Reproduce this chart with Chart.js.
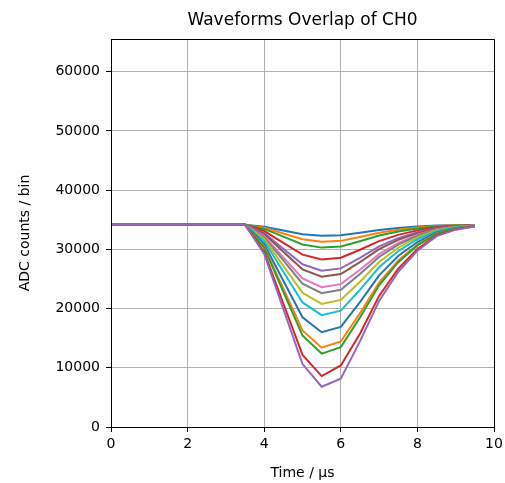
<!DOCTYPE html>
<html lang="en">
<head>
  <meta charset="UTF-8">
  <title>Waveforms Overlap of CH0</title>
  <script src="https://cdn.jsdelivr.net/npm/chart.js"></script>
  <style>
    body { margin: 0; background: #fff; }
    #wrap { width: 505px; height: 483px; }
  </style>
</head>
<body>
  <div id="wrap"><canvas id="myChart"></canvas></div>

  <script>
    // Sample times in microseconds
    const timeUs = [0, 0.5, 1, 1.5, 2, 2.5, 3, 3.5, 4, 4.5, 5, 5.5, 6, 6.5, 7, 7.5, 8, 8.5, 9, 9.5];

    // Axis ticks
    const xTicks = [0, 2, 4, 6, 8, 10];
    const yTicks = [0, 10000, 20000, 30000, 40000, 50000, 60000];

    // ADC counts for each waveform, smallest pulse first
    const wave01 = [34150, 34150, 34150, 34150, 34150, 34150, 34150, 34150, 33820, 33190, 32560, 32300, 32390, 32820, 33280, 33610, 33850, 34020, 34090, 34130];
    const wave02 = [34150, 34150, 34150, 34150, 34150, 34150, 34150, 34150, 33640, 32670, 31700, 31300, 31440, 32100, 32810, 33320, 33690, 33950, 34060, 34120];
    const wave03 = [34150, 34150, 34150, 34150, 34150, 34150, 34150, 34150, 33460, 32150, 30840, 30300, 30490, 31380, 32340, 33030, 33530, 33880, 34030, 34110];
    const wave04 = [34150, 34150, 34150, 34150, 34150, 34150, 34150, 34150, 33100, 31110, 29120, 28300, 28590, 29940, 31400, 32450, 33210, 33740, 33970, 34090];
    const wave05 = [34150, 34150, 34150, 34150, 34150, 34150, 34150, 34150, 32760, 30120, 27490, 26400, 26790, 28570, 30510, 31900, 32910, 33610, 33920, 34070];
    const wave06 = [34150, 34150, 34150, 34150, 34150, 34150, 34150, 34150, 32580, 29600, 26630, 25400, 25840, 27850, 30040, 31610, 32750, 33540, 33890, 34060];
    const wave07 = [34150, 34150, 34150, 34150, 34150, 34150, 34150, 34150, 32250, 28660, 25080, 23600, 24130, 26550, 29190, 31090, 32460, 33410, 33830, 34050];
    const wave08 = [34150, 34150, 34150, 34150, 34150, 34150, 34150, 34150, 32070, 28140, 24220, 22600, 23180, 25830, 28720, 30800, 32300, 33340, 33800, 34030];
    const wave09 = [34150, 34150, 34150, 34150, 34150, 34150, 34150, 34150, 31750, 27210, 22670, 20800, 21470, 24540, 27880, 30280, 32010, 33220, 33750, 34020];
    const wave10 = [34150, 34150, 34150, 34150, 34150, 34150, 34150, 34150, 31410, 26220, 21040, 18900, 19660, 23170, 26980, 29730, 31710, 33080, 33690, 34000];
    const wave11 = [34150, 34150, 34150, 34150, 34150, 34150, 34150, 34150, 30880, 24710, 18540, 16000, 16910, 21080, 25620, 28890, 31250, 32880, 33610, 33970];
    const wave12 = [34150, 34150, 34150, 34150, 34150, 34150, 34150, 34150, 30420, 23360, 16310, 13400, 14440, 19210, 24400, 28130, 30830, 32700, 33530, 33940];
    const wave13 = [34150, 34150, 34150, 34150, 34150, 34150, 34150, 34150, 30240, 22840, 15450, 12400, 13490, 18490, 23930, 27840, 30670, 32630, 33500, 33930];
    const wave14 = [34150, 34150, 34150, 34150, 34150, 34150, 34150, 34150, 29550, 20860, 12180, 8600, 10400, 15750, 22140, 26740, 30060, 32360, 33380, 33900];
    const wave15 = [34150, 34150, 34150, 34150, 34150, 34150, 34150, 34150, 29230, 19930, 10630, 6800, 8170, 14460, 21300, 26220, 29770, 32240, 33330, 33880];

    const waves = [wave01, wave02, wave03, wave04, wave05, wave06, wave07, wave08,
                   wave09, wave10, wave11, wave12, wave13, wave14, wave15];

    // matplotlib default colour cycle
    const tab10 = ['#1f77b4', '#ff7f0e', '#2ca02c', '#d62728', '#9467bd',
                   '#8c564b', '#e377c2', '#7f7f7f', '#bcbd22', '#17becf'];

    const titleText = 'Waveforms Overlap of CH0';

    Chart.defaults.font.family = "'DejaVu Sans', sans-serif";
    Chart.defaults.color = '#000';

    // draws the top and right spines plus the title centred over the plot area
    const frame = {
      id: 'frame',
      afterDraw(chart) {
        const a = chart.chartArea;
        const ctx = chart.ctx;
        ctx.save();
        ctx.strokeStyle = '#000';
        ctx.lineWidth = 1;
        ctx.strokeRect(Math.round(a.left) + 0.5, Math.round(a.top) + 0.5,
                       Math.round(a.right - a.left), Math.round(a.bottom - a.top));
        ctx.fillStyle = '#000';
        ctx.font = "17px 'DejaVu Sans', sans-serif";
        ctx.textAlign = 'center';
        ctx.textBaseline = 'middle';
        ctx.fillText(titleText, (a.left + a.right) / 2, a.top - 18);
        ctx.restore();
      }
    };

    const datasets = waves.map((w, i) => ({
      data: w.map((v, k) => ({ x: timeUs[k], y: v })),
      borderColor: tab10[i % 10],
      borderWidth: 2,
      pointRadius: 0,
      fill: false,
      tension: 0,
      order: waves.length - i   // later waveforms on top, as in matplotlib
    }));

    const ctx = document.getElementById('myChart').getContext('2d');
    new Chart(ctx, {
      type: 'line',
      data: { datasets },
      plugins: [frame],
      options: {
        responsive: true,
        maintainAspectRatio: false,
        animation: false,
        devicePixelRatio: 1,
        layout: { padding: { top: 39, right: 11, bottom: 0, left: 0 } },
        plugins: {
          legend: { display: false },
          tooltip: { enabled: false },
          title: { display: false }
        },
        scales: {
          x: {
            type: 'linear',
            min: 0,
            max: 10,
            afterBuildTicks: s => { s.ticks = xTicks.map(v => ({ value: v })); },
            ticks: { font: { size: 14 }, padding: 4, maxRotation: 0, callback: v => String(v) },
            grid: { color: '#b0b0b0', tickColor: '#000', tickLength: 5 },
            border: { color: '#000', width: 1 },
            title: { display: true, text: 'Time / μs', font: { size: 14 }, padding: { top: 0, bottom: 1 } },
            afterFit: s => { s.height = 56; s.paddingLeft = 0; s.paddingRight = 0; }
          },
          y: {
            min: 0,
            max: 65536,
            afterBuildTicks: s => { s.ticks = yTicks.map(v => ({ value: v })); },
            ticks: { font: { size: 14 }, padding: 6, callback: v => String(v) },
            grid: { color: '#b0b0b0', tickColor: '#000', tickLength: 5 },
            border: { color: '#000', width: 1 },
            title: { display: true, text: 'ADC counts / bin', font: { size: 14 }, padding: { top: 17, bottom: 0 } },
            afterFit: s => { s.width = 111; s.paddingTop = 0; s.paddingBottom = 0; }
          }
        }
      }
    });
  </script>
</body>
</html>
